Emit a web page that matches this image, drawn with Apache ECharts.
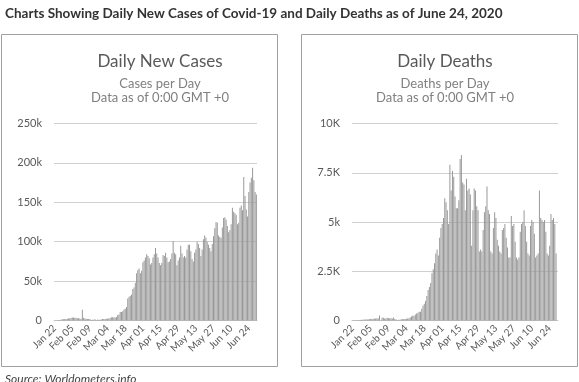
<!DOCTYPE html>
<html>
<head>
<meta charset="utf-8">
<script src="https://cdn.jsdelivr.net/npm/echarts@6/dist/echarts.min.js"></script>
<style>
html,body{margin:0;padding:0;background:#fff;}
#c{width:579px;height:382px;}
</style>
</head>
<body>
<div id="c"></div>
<script>
// Daily new cases, Jan 22 .. Jun 29 2020 (160 days)
const cases = [
  100, 270, 260, 490, 680, 810, 1500, 1700, 1750, 2000,
  2100, 2600, 2800, 3200, 3900, 3700, 3200, 3400, 2700, 3000, 2500, 2000, 13500, 3500, 2600, 2100, 2000, 1900, 1800, 600, 1000, 1000, 1500, 600, 900, 1000, 1100, 1400, 2000,
  1800, 1900, 2200, 2300, 2700, 3000, 4000, 4000, 4000, 3800, 4600, 7000, 7500, 10800, 10800, 11800, 14000, 15000, 17000,
  28000, 30000, 31000, 33000, 40000, 42000, 48000, 60000, 64000, 66000, 60000, 63000, 74000,
  76000, 80000, 84000, 82000, 79000, 71000, 73000, 80000, 84000, 92000, 85000, 80000, 73000, 70000, 73000, 83000, 82000, 86000, 80000, 74000, 75000, 78000, 85000, 101000, 86000, 84000, 70000, 76000, 80000, 95000,
  85000, 80000, 82000, 80000, 90000, 96000, 96000, 88000, 78000, 75000, 86000, 90000, 100000, 97000, 92000, 82000, 90000, 103000, 108000, 105000, 100000, 96000, 92000, 88000, 97000, 107000, 117000, 125000, 124000, 108000, 106000,
  105000, 118000, 130000, 131000, 128000, 120000, 112000, 115000, 122000, 143000, 138000, 136000, 134000, 122000, 124000, 143000, 146000, 140000, 182000, 158000, 141000, 132000, 163000, 175000, 181000, 194000, 178000, 163000, 160000
];
// Daily deaths, same dates
const deaths = [
  17, 8, 16, 14, 24, 26, 26, 38, 43, 46,
  45, 57, 64, 66, 73, 73, 86, 89, 97, 108, 97, 254, 13, 143, 142, 106, 98, 139, 112, 118, 109, 97, 150, 71, 52, 29, 44, 37, 58,
  60, 70, 80, 90, 100, 110, 150, 200, 250, 230, 300, 350, 390, 450, 450, 600, 750, 850,
  1000, 1250, 1550, 1700, 1900, 2400, 2600, 2900, 3400, 3600, 3300, 4200, 4700,
  4900, 5200, 6200, 6000, 5600, 4900, 7900, 6600, 7600, 7300, 6300, 5700, 5700, 6100, 8200, 8400, 7000, 6900, 5600, 7200, 6600, 6700, 6400, 3800, 5600, 6700, 6600, 5800, 5600, 3500,
  3600, 3500, 4600, 5500, 5800, 6800, 5600, 5400, 3500, 3400, 4700, 5500, 5200, 4100, 3800, 3500, 3400, 4600, 4700, 4900, 4200, 3700, 3200, 3200, 5300, 4800, 4900, 4000, 3200, 3100, 3200,
  4500, 4900, 5000, 5600, 4800, 4000, 3400, 3300, 4800, 5100, 5000, 4400, 3200, 3300, 3400, 6600, 5200, 5100, 5000, 5100, 4500, 3400, 3300, 3800, 5400, 5100, 5200, 4900, 3400
];
const xTickLabels = ['Jan 22','Feb 05','Feb 09','Mar 04','Mar 18','Apr 01','Apr 15','Apr 29','May 13','May 27','Jun 10','Jun 24'];
const casesTicks = ['0','50k','100k','150k','200k','250k'];
const deathsTicks = ['0','2.5K','5k','7.5K','10K'];

const monthNames = ['Jan','Feb','Mar','Apr','May','Jun','Jul'];
const categories = [];
(function(){
  const d = new Date(Date.UTC(2020,0,22));
  for (let i = 0; i < cases.length; i++) {
    categories.push(monthNames[d.getUTCMonth()] + ' ' + String(d.getUTCDate()).padStart(2,'0'));
    d.setUTCDate(d.getUTCDate()+1);
  }
})();

const chart = echarts.init(document.getElementById('c'), null, {renderer:'canvas'});
const font = 'Lato, "Open Sans", sans-serif';
function xAxisFor(gi){
  return {
    type:'category', gridIndex:gi, data:categories, boundaryGap:true,
    axisTick:{show:false},
    axisLine:{lineStyle:{color:'#c8c8c8', width:1}},
    axisLabel:{interval:13, rotate:45, fontSize:10, color:'#595959', fontFamily:font, margin:6,
      formatter:function(v, i){ return xTickLabels[Math.round(i/14)] || ''; }}
  };
}
function yAxisFor(gi, max, interval, ticks){
  return {
    type:'value', gridIndex:gi, min:0, max:max, interval:interval,
    axisLine:{show:false}, axisTick:{show:false},
    splitLine:{lineStyle:{color:'#d0d0d0', width:1}},
    axisLabel:{fontSize:11, color:'#595959', fontFamily:font, margin:12,
      formatter:function(v, i){ return ticks[Math.round(v/interval)]; }}
  };
}
chart.setOption({
  animation:false,
  backgroundColor:'#ffffff',
  title:[
    {text:'Charts Showing Daily New Cases of Covid-19 and Daily Deaths as of June 24, 2020', left:0, top:2,
      textStyle:{fontFamily:font, fontSize:13.5, fontWeight:'bold', color:'#333333'}},
    {text:'Daily New Cases', left:155, top:48, textAlign:'center', textStyle:{fontFamily:font, fontSize:17, fontWeight:'normal', color:'#595959'}},
    {text:'Cases per Day', left:155, top:72, textAlign:'center', textStyle:{fontFamily:font, fontSize:13, fontWeight:'normal', color:'#808080'}},
    {text:'Data as of 0:00 GMT +0', left:155, top:86, textAlign:'center', textStyle:{fontFamily:font, fontSize:13, fontWeight:'normal', color:'#808080'}},
    {text:'Daily Deaths', left:440, top:48, textAlign:'center', textStyle:{fontFamily:font, fontSize:17, fontWeight:'normal', color:'#595959'}},
    {text:'Deaths per Day', left:440, top:72, textAlign:'center', textStyle:{fontFamily:font, fontSize:13, fontWeight:'normal', color:'#808080'}},
    {text:'Data as of 0:00 GMT +0', left:440, top:86, textAlign:'center', textStyle:{fontFamily:font, fontSize:13, fontWeight:'normal', color:'#808080'}},
    {text:'Source: Worldometers.info', left:0, top:368, textStyle:{fontFamily:font, fontSize:12, fontWeight:'normal', fontStyle:'italic', color:'#444444'}}
  ],
  graphic:[
    {type:'rect', shape:{x:1.5, y:34.5, width:276, height:332}, style:{fill:'none', stroke:'#a0a0a0', lineWidth:1}, silent:true},
    {type:'rect', shape:{x:301.5, y:34.5, width:276, height:332}, style:{fill:'none', stroke:'#a0a0a0', lineWidth:1}, silent:true}
  ],
  grid:[
    {left:54, top:123.5, width:203, height:197},
    {left:352, top:123.5, width:206, height:197}
  ],
  xAxis:[xAxisFor(0), xAxisFor(1)],
  yAxis:[yAxisFor(0, 250000, 50000, casesTicks), yAxisFor(1, 10000, 2500, deathsTicks)],
  series:[
    {type:'bar', xAxisIndex:0, yAxisIndex:0, data:cases, barCategoryGap:'45%', itemStyle:{color:'#999999'}},
    {type:'bar', xAxisIndex:1, yAxisIndex:1, data:deaths, barCategoryGap:'45%', itemStyle:{color:'#999999'}}
  ]
});
</script>
</body>
</html>
